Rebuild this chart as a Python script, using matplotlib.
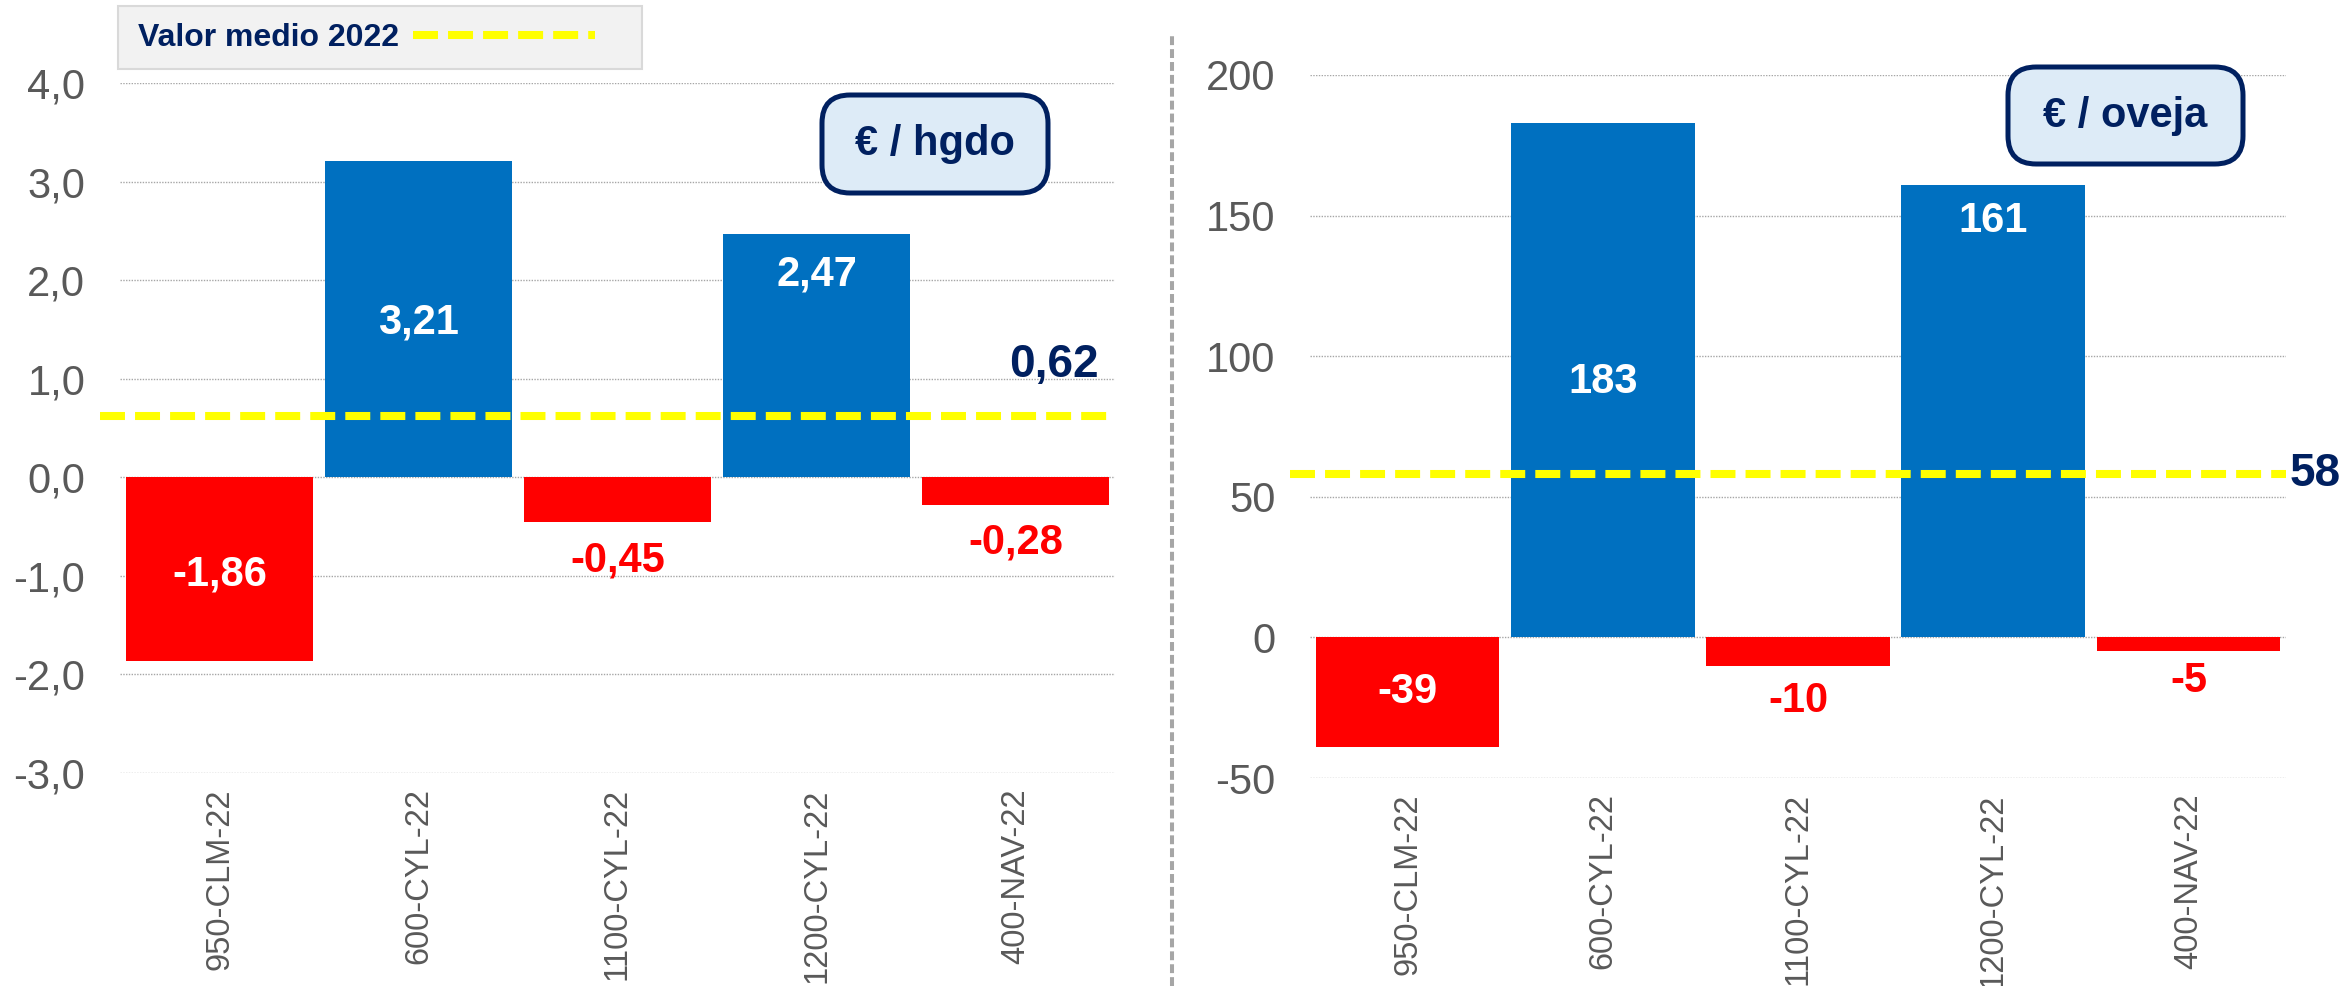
import matplotlib
matplotlib.use("Agg")
import matplotlib.pyplot as plt
from matplotlib.lines import Line2D
from matplotlib.patches import FancyBboxPatch, Rectangle

plt.rcParams["font.family"] = ["Liberation Sans", "DejaVu Sans"]

# datos
categorias = ["950-CLM-22", "600-CYL-22", "1100-CYL-22", "1200-CYL-22", "400-NAV-22"]
valores_hgdo = [-1.86, 3.21, -0.45, 2.47, -0.28]
valores_oveja = [-39, 183, -10, 161, -5]
media_hgdo = 0.62
media_oveja = 58
etiquetas_hgdo = ["-1,86", "3,21", "-0,45", "2,47", "-0,28"]
etiquetas_oveja = ["-39", "183", "-10", "161", "-5"]
# posicion vertical de las etiquetas (en unidades del eje)
pos_etiq_hgdo = [-0.99, 1.57, -0.84, 2.06, -0.66]
pos_etiq_oveja = [-19.5, 91, -22.7, 148, -15.6]
ticks_hgdo = [-3, -2, -1, 0, 1, 2, 3, 4]
ticks_oveja = [-50, 0, 50, 100, 150, 200]

AZUL = "#0070C0"
ROJO = "#FF0000"
AMARILLO = "#FFFF00"
NAVY = "#002060"
GRIS_TXT = "#595959"

W, H = 2346, 986
fig = plt.figure(figsize=(W / 100, H / 100), dpi=100)


def caja(x0, y0, x1, y1):
    return [x0 / W, 1 - y1 / H, (x1 - x0) / W, (y1 - y0) / H]


ax1 = fig.add_axes(caja(120, 83, 1115, 773))
ax2 = fig.add_axes(caja(1310, 75, 2286, 778))


def dibujar(ax, valores, etiquetas, pos_etiq, media, ticks, fmt):
    x = list(range(len(categorias)))
    colores = [AZUL if v >= 0 else ROJO for v in valores]
    ax.bar(x, valores, width=0.94, color=colores, zorder=2)
    ax.set_xlim(-0.5, len(categorias) - 0.5)
    ax.set_ylim(ticks[0], ticks[-1])
    ax.set_yticks(ticks, [fmt(t) for t in ticks])
    ax.set_xticks(x, categorias, rotation=90)
    ax.tick_params(axis="y", length=0, pad=25, labelsize=30, labelcolor=GRIS_TXT)
    ax.tick_params(axis="x", length=0, pad=11, labelsize=23.5, labelcolor=GRIS_TXT)
    ax.grid(axis="y", color="#A6A6A6", linestyle=(0, (1, 1)), linewidth=1, zorder=0)
    for s in ax.spines.values():
        s.set_visible(False)
    for i, (v, t, p) in enumerate(zip(valores, etiquetas, pos_etiq)):
        dentro = abs(v) > abs(p)
        color = "white" if dentro else ROJO
        ax.text(i, p, t, ha="center", va="center", fontsize=30,
                fontweight="bold", color=color, zorder=4)
    linea = ax.axhline(media, xmin=-0.02, xmax=1.0, color=AMARILLO, lw=5.8,
                       linestyle=(0, (3.1, 1.25)), zorder=3, clip_on=False)
    return linea


linea = dibujar(ax1, valores_hgdo, etiquetas_hgdo, pos_etiq_hgdo, media_hgdo,
                ticks_hgdo, lambda t: ("%.1f" % t).replace(".", ","))
dibujar(ax2, valores_oveja, etiquetas_oveja, pos_etiq_oveja, media_oveja,
        ticks_oveja, lambda t: "%d" % t)

# valores medios
ax1.text(4.42, 1.14, "0,62", ha="right", va="center", fontsize=33,
         fontweight="bold", color=NAVY)
ax2.text(4.52, media_oveja, "58", ha="left", va="center", fontsize=33,
         fontweight="bold", color=NAVY, clip_on=False)

# leyenda (fondo dibujado aparte)
fig.patches.append(Rectangle((118 / W, 1 - 69 / H), 524 / W, 63 / H,
                             transform=fig.transFigure, facecolor="#F2F2F2",
                             edgecolor="#D9D9D9", linewidth=1.5))
leg = fig.legend(handles=[linea], labels=["Valor medio 2022"], loc="center left",
                 bbox_to_anchor=(138 / W, 1 - 38 / H), markerfirst=False,
                 fontsize=23, handlelength=5.7, handletextpad=0.44,
                 borderpad=0, borderaxespad=0, frameon=False)
for t in leg.get_texts():
    t.set_fontweight("bold")
    t.set_color(NAVY)

# cajas de unidades
for (x0, y0, x1, y1), txt in [((822, 95, 1048, 193), "€ / hgdo"),
                              ((2008, 67, 2243, 164), "€ / oveja")]:
    p = FancyBboxPatch((x0 / W, 1 - y1 / H), (x1 - x0) / W, (y1 - y0) / H,
                       boxstyle="round,pad=0,rounding_size=0.012",
                       transform=fig.transFigure, facecolor="#DDEBF7",
                       edgecolor=NAVY, linewidth=3.6, mutation_aspect=W / H)
    fig.patches.append(p)
    fig.text((x0 + x1) / 2 / W, 1 - (y0 + y1) / 2 / H, txt, ha="center",
             va="center", fontsize=30, fontweight="bold", color=NAVY)

# separador
fig.add_artist(Line2D([1172 / W, 1172 / W], [0, 1 - 33 / H], color="#A6A6A6",
                      lw=2.9, linestyle=(0, (2.2, 1.0)),
                      transform=fig.transFigure))

plt.savefig("out.png", dpi=100)
